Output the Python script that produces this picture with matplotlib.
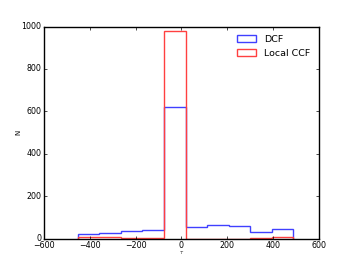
import numpy as np
import matplotlib
matplotlib.use('Agg')
import matplotlib.pyplot as plt

# bin edges of tau (shared by both histograms)
bin_edges = [-454, -359.6, -265.2, -170.8, -76.4, 18, 112.4, 206.8, 301.2, 395.6, 490]
# counts per bin
dcf_counts = [19, 28, 36, 38, 619, 53, 66, 61, 33, 47]
ccf_counts = [5, 5, 2, 1, 980, 0, 0, 0, 3, 9]

plt.style.use('classic')
plt.rcParams['font.size'] = 5.7

fig = plt.figure(figsize=(3.54, 2.65), dpi=100)
ax = fig.add_axes([0.125, 0.1, 0.775, 0.8])

edges = np.array(bin_edges)
centers = (edges[:-1] + edges[1:]) / 2

ax.hist(centers, bins=edges, weights=dcf_counts, histtype='step',
        color='#4040ff', linewidth=1, label='DCF')
ax.hist(centers, bins=edges, weights=ccf_counts, histtype='step',
        color='#ff4040', linewidth=1, label='Local CCF')

ax.set_xlim(-600, 600)
ax.set_ylim(0, 1000)
ax.set_xlabel(r'$\tau$', fontsize=4.5, labelpad=-1)
ax.set_ylabel('N', fontsize=5, labelpad=0)
ax.tick_params(labelsize=5.7, length=2, pad=2)
ax.legend(loc='upper right', frameon=False, fontsize=6.8)

fig.savefig('out.png', dpi=100)
